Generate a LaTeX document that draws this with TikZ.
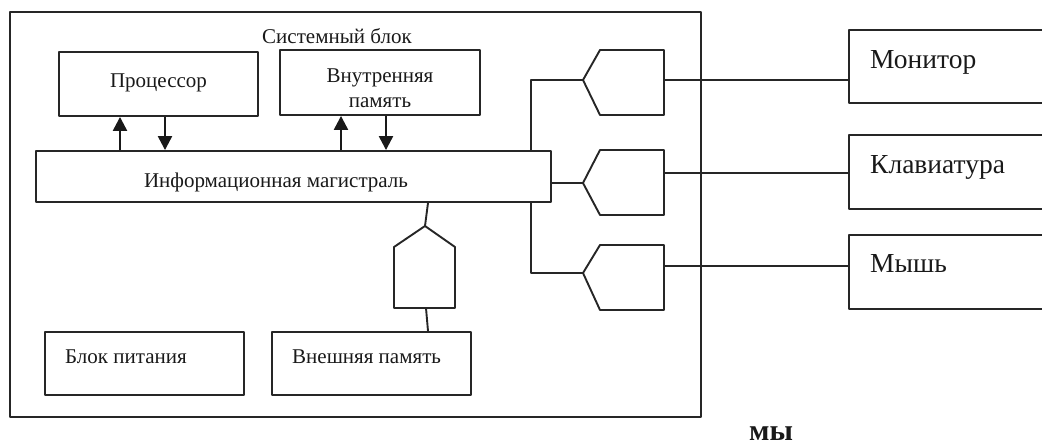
\documentclass[tikz,border=0pt]{standalone}
\usepackage{fontspec}
\setmainfont{Liberation Serif}
\usetikzlibrary{arrows.meta}
\begin{document}
\begin{tikzpicture}[x=1pt,y=-1pt,
  ln/.style={line width=1.9pt, draw=black!85, line join=round},
  box/.style={ln, draw, rectangle, inner sep=0pt},
  txt/.style={font=\fontsize{21}{25}\selectfont, text=black!90, inner sep=0pt},
  big/.style={font=\fontsize{27.5}{32}\selectfont, text=black!90, inner sep=0pt},
  arr/.style={line width=2.3pt, draw=black!90, -{Triangle[length=14pt,width=14pt]}}]
\useasboundingbox (0,0) rectangle (1042,447);
% system block
\node[box, line width=2.1pt, minimum width=691pt, minimum height=405pt] (sys) at (355.5,214.5) {};
\node[txt, anchor=base] (title) at (337,43) {Системный блок};
% inner boxes
\node[box, minimum width=199pt, minimum height=64pt] (proc) at (158.5,84) {};
\node[txt, anchor=base] (proctext) at (158.5,87.5) {Процессор};
\node[box, minimum width=200pt, minimum height=65pt] (mem) at (380,82.5) {};
\node[txt, anchor=base] (memtext1) at (380,82) {Внутренняя};
\node[txt, anchor=base] (memtext2) at (380,107) {память};
\node[box, minimum width=515pt, minimum height=51pt] (bus) at (293.5,176.5) {};
\node[txt, anchor=base] (bustext) at (276,187) {Информационная магистраль};
\node[box, minimum width=199pt, minimum height=63pt] (pwr) at (144.5,363.5) {};
\node[txt, anchor=base west] (pwrtext) at (65,363) {Блок питания};
\node[box, minimum width=199pt, minimum height=63pt] (ext) at (371.5,363.5) {};
\node[txt, anchor=base west] (exttext) at (292,363) {Внешняя память};
% outer devices
\node[box, minimum width=201pt, minimum height=73pt] (mon) at (949.5,66.5) {};
\node[big, anchor=base west] (montext) at (870,68) {Монитор};
\node[box, minimum width=201pt, minimum height=74pt] (kbd) at (949.5,172) {};
\node[big, anchor=base west] (kbdtext) at (870,173.5) {Клавиатура};
\node[box, minimum width=201pt, minimum height=74pt] (mouse) at (949.5,272) {};
\node[big, anchor=base west] (mousetext) at (870,272.7) {Мышь};
% arrows bus <-> processor / memory
\coordinate (a1) at (120,0);
\coordinate (a2) at (165,0);
\coordinate (a3) at (341,0);
\coordinate (a4) at (386,0);
\draw[arr] (bus.north -| a1) -- (proc.south -| a1);
\draw[arr] (proc.south -| a2) -- (bus.north -| a2);
\draw[arr] (bus.north -| a3) -- (mem.south -| a3);
\draw[arr] (mem.south -| a4) -- (bus.north -| a4);
% port plugs (pointing left)
\draw[ln] (583,80) coordinate (p1) -- (600,50) -- (664,50) -- (664,115) -- (600,115) -- cycle;
\coordinate (p1r) at (664,80);
\draw[ln] (583,183) coordinate (p2) -- (600,150) -- (664,150) -- (664,215) -- (600,215) -- cycle;
\coordinate (p2r) at (664,173);
\draw[ln] (583,273) coordinate (p3) -- (600,245) -- (664,245) -- (664,310) -- (600,310) -- cycle;
\coordinate (p3r) at (664,266);
% external memory plug (pointing up)
\draw[ln] (425,226) coordinate (pv) -- (455,247) -- (455,308) -- (394,308) -- (394,247) -- cycle;
\coordinate (pvb) at (426,308);
\coordinate (vx) at (531,0);
\coordinate (ex) at (428,0);
% connections
\draw[ln] (bus.north -| vx) |- (p1);
\draw[ln] (bus.south -| vx) |- (p3);
\draw[ln] (bus.east |- p2) -- (p2);
\draw[ln] (bus.south -| ex) -- (pv);
\draw[ln] (pvb) -- (ext.north -| ex);
\draw[ln] (p1r) -- (mon.west |- p1r);
\draw[ln] (p2r) -- (kbd.west |- p2r);
\draw[ln] (p3r) -- (mouse.west |- p3r);
% caption fragment
\node[font=\fontsize{30}{34}\selectfont\bfseries, text=black!90, inner sep=0pt, anchor=base west] (cap) at (749,440) {мы};
\end{tikzpicture}
\end{document}
